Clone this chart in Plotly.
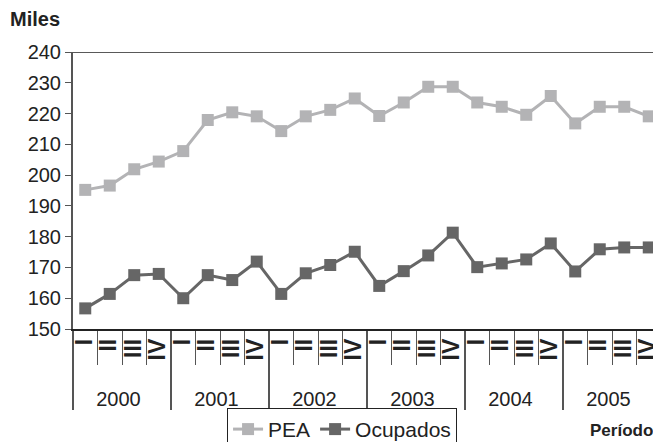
"""
PEA y Ocupados por trimestre, 2000-2005 (miles).
"""
import plotly.graph_objects as go

# datos
anios = ["2000", "2001", "2002", "2003", "2004", "2005"]
trimestres = ["I", "II", "III", "IV"]

pea = [195.2, 196.6, 201.9, 204.4, 207.8, 217.9, 220.4, 219.1,
       214.3, 219.1, 221.2, 224.9, 219.2, 223.6, 228.7, 228.7,
       223.6, 222.2, 219.6, 225.7, 216.8, 222.2, 222.2, 219.1]
ocupados = [156.7, 161.4, 167.5, 167.9, 160.0, 167.5, 165.9, 171.9,
            161.4, 168.1, 170.8, 175.1, 164.0, 168.8, 173.9, 181.3,
            170.1, 171.3, 172.6, 177.8, 168.7, 175.9, 176.5, 176.5]

y_ticks = [150, 160, 170, 180, 190, 200, 210, 220, 230, 240]

# eje x de dos niveles: año / trimestre (trimestre en negrita, girado)
# espacios duros a ambos lados: separan el texto girado del eje y bajan los años
x_anio = [a for a in anios for _ in trimestres]
x_trim = ['<span style="font-size:23px">\u00a0<b>%s</b></span>' % t
          for _ in anios for t in trimestres]

fig = go.Figure()

fig.add_trace(go.Scatter(
    x=[x_anio, x_trim], y=pea, name="PEA",
    mode="lines+markers",
    line=dict(color="#b3b3b5", width=3),
    marker=dict(symbol="square", size=12, color="#b3b3b5"),
))
fig.add_trace(go.Scatter(
    x=[x_anio, x_trim], y=ocupados, name="Ocupados",
    mode="lines+markers",
    line=dict(color="#666666", width=3),
    marker=dict(symbol="square", size=12, color="#666666"),
))

# línea superior en 240
fig.add_hline(y=240, line_color="#222222", line_width=1.5)

# la página deja 8 px de margen en body; la figura baja más allá del borde
# inferior para que la leyenda quede cortada como en el original
fig.update_layout(
    width=653, height=470,
    paper_bgcolor="white", plot_bgcolor="white",
    font=dict(family="Liberation Sans, Arial", size=20, color="#222222"),
    margin=dict(l=65, r=0, t=44, b=149),
    showlegend=True,
    legend=dict(
        orientation="h",
        x=0.262, xanchor="left",
        y=-0.285, yanchor="top",
        bordercolor="#222222", borderwidth=1,
        font=dict(size=21),
        itemwidth=30,
    ),
)

fig.update_xaxes(
    type="multicategory",
    range=[-0.5, 23.5],
    showline=True, linecolor="#222222", linewidth=1.5,
    ticks="outside", ticklen=34, tickcolor="#555555", tickwidth=1,
    dividercolor="#555555", dividerwidth=1.5,
    showgrid=False,
    tickangle=-90,
    tickfont=dict(size=20),
)
fig.update_yaxes(
    range=[150, 240],
    tickvals=y_ticks,
    showline=True, linecolor="#555555", linewidth=2,
    ticks="outside", ticklen=6, tickcolor="#555555",
    showgrid=False, zeroline=False,
    tickfont=dict(size=20),
)

fig.add_annotation(
    text="<b>Miles</b>", xref="paper", yref="paper",
    x=-0.11, y=1.119, xanchor="left", yanchor="middle",
    showarrow=False, font=dict(size=20),
)
fig.add_annotation(
    text="<b>Período</b>", xref="paper", yref="paper",
    x=0.99, y=-0.368, xanchor="right", yanchor="middle",
    showarrow=False, font=dict(size=17),
)

fig.write_html("out.html")
